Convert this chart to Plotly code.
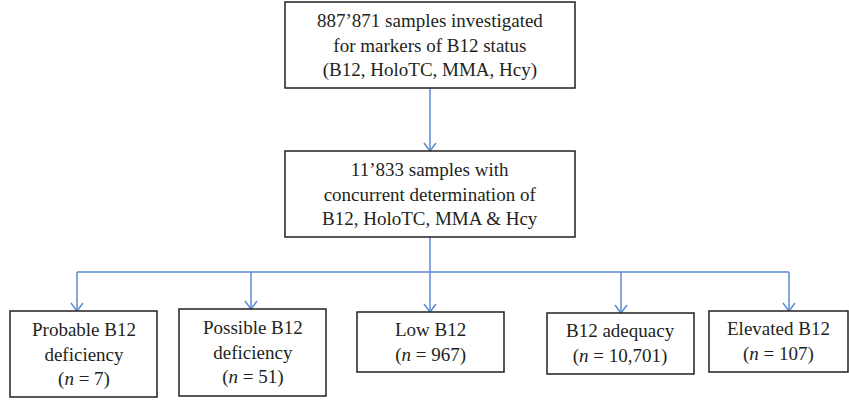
import plotly.graph_objects as go

# ---- data ----
total_samples = "887’871"
concurrent_samples = "11’833"
markers = ["B12", "HoloTC", "MMA", "Hcy"]
categories = ["Probable B12<br>deficiency", "Possible B12<br>deficiency", "Low B12",
              "B12 adequacy", "Elevated B12"]
counts = [7, 51, 967, 10701, 107]

# ---- layout geometry (pixel space) ----
W, H = 849, 400
LINE_C = "#5b8bd3"
FONT = dict(family="'Liberation Serif', 'Times New Roman', Times, serif", size=19, color="#231f20")

top_box = (285, 575, 2, 88)
mid_box = (285, 575, 151, 237)
bottom_boxes = [(10, 157, 311, 397), (179, 326, 309, 396), (357, 504, 312, 372),
                (547, 694, 313, 374), (709, 848, 311, 372)]
arrow_x = [77, 251, 430, 621, 789]
branch_y = 272

fig = go.Figure()
shapes = []
annotations = []

def box(b, text):
    x0, x1, y0, y1 = b
    shapes.append(dict(type="rect", x0=x0, x1=x1, y0=y0, y1=y1,
                       line=dict(color="#231f20", width=1.5), fillcolor="white", layer="above"))
    annotations.append(dict(x=(x0 + x1) / 2, y=(y0 + y1) / 2, text=text, showarrow=False,
                            xanchor="center", yanchor="middle", font=FONT, align="center"))

def seg(xs, ys):
    fig.add_trace(go.Scatter(x=xs, y=ys, mode="lines", line=dict(color=LINE_C, width=1.5),
                             hoverinfo="skip", showlegend=False))

def arrow(x, y0, y1):
    seg([x, x], [y0, y1])
    seg([x - 6, x, x + 6], [y1 - 8, y1, y1 - 8])

box(top_box, f"{total_samples} samples investigated<br>for markers of B12 status<br>({', '.join(markers)})")
box(mid_box, f"{concurrent_samples} samples with<br>concurrent determination of<br>"
             f"{', '.join(markers[:-1])} &amp; {markers[-1]}")

for b, cat, n in zip(bottom_boxes, categories, counts):
    box(b, f"{cat}<br>(<i>n</i> = {n:,})")

cx = (top_box[0] + top_box[1]) / 2
arrow(cx, top_box[3], mid_box[2])
seg([cx, cx], [mid_box[3], branch_y])
seg([arrow_x[0], arrow_x[-1]], [branch_y, branch_y])
for b, ax in zip(bottom_boxes, arrow_x):
    arrow(ax, branch_y, b[2])

fig.update_layout(
    width=W, height=H, margin=dict(l=0, r=0, t=0, b=0),
    paper_bgcolor="white", plot_bgcolor="white",
    font=dict(family=FONT["family"]),
    xaxis=dict(range=[0, W], visible=False, fixedrange=True),
    yaxis=dict(range=[H, 0], visible=False, fixedrange=True),
    shapes=shapes, annotations=annotations, showlegend=False,
)

fig.write_html("out.html", config={"displayModeBar": False},
               post_script="document.body.style.margin='0';")
